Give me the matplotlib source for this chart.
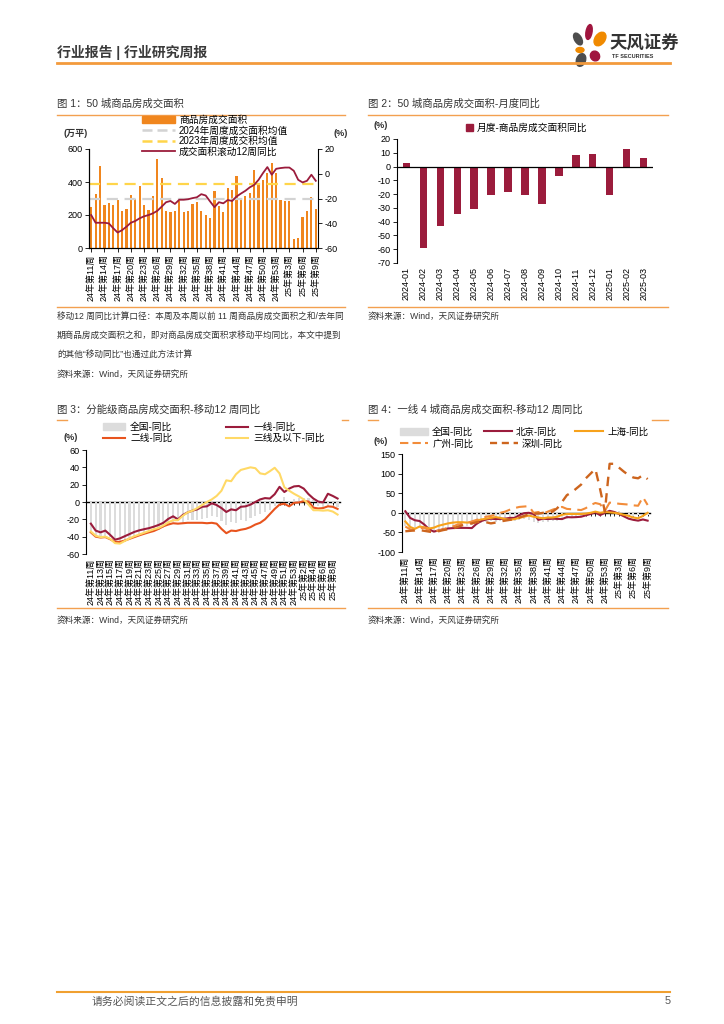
import matplotlib
matplotlib.use('Agg')
import matplotlib.pyplot as plt
from matplotlib.lines import Line2D
from matplotlib.patches import Patch, Ellipse
import numpy as np

plt.rcParams['font.family'] = ['Liberation Sans', 'Noto Sans CJK SC']
plt.rcParams['axes.unicode_minus'] = False

# ---- data ----
weeks = [f"24年第{w}周" for w in range(11, 54)] + [f"25年第{w}周" for w in range(1, 10)]

area50 = [248, 330, 497, 258, 273, 260, 290, 224, 235, 320,
          300, 377, 263, 230, 315, 542, 426, 223, 220, 224,
          285, 218, 222, 269, 279, 225, 197, 181, 347, 253,
          219, 362, 352, 437, 296, 316, 336, 475, 384, 414,
          454, 518, 455, 290, 285, 285, 52, 63, 185, 224,
          307, 236]
avg2024 = 297
avg2023 = 386
nation_yoy = [-33.4, -39.6, -39.6, -39.6, -40.1, -44.0, -47.5, -45.6, -42.8, -39.6,
              -38.2, -36.0, -34.4, -33.4, -32.0, -30.0, -26.6, -23.0, -22.0, -24.4,
              -21.0, -21.0, -20.6, -19.7, -19.0, -16.5, -17.6, -22.4, -27.0, -23.0,
              -23.9, -21.2, -22.0, -18.4, -16.0, -13.8, -11.0, -9.0, -4.9, 0.5,
              5.4, -0.8, 4.0, 4.6, 5.0, 5.0, 2.4, -4.9, -7.0, -5.7,
              -0.8, -5.7]

months = ['2024-01', '2024-02', '2024-03', '2024-04', '2024-05', '2024-06', '2024-07',
          '2024-08', '2024-09', '2024-10', '2024-11', '2024-12', '2025-01', '2025-02', '2025-03']
monthly_yoy = [2.5, -59, -43, -34.5, -30.5, -21, -18.5, -20.5, -27.5, -6.5, 8.5, 9, -20.5, 12.5, 6]

tier1 = [-25, -33, -35, -33, -38, -43.5, -42, -39.5, -37, -34.5,
         -32.7, -31.4, -30.2, -28.5, -26.5, -24, -19.5, -16.5, -20, -15,
         -12, -10, -8.5, -5.5, -5, -1.5, -3.5, -7, -11.5, -8.5,
         -9.5, -5.5, -5, -3, 0, 3, 4.5, 4, 9, 17.5,
         11.5, 15.5, 18, 18.5, 15.5, 9, 4, 0.5, -0.5, 9.5,
         7, 4]
tier2 = [-35, -40, -41, -40.5, -43, -46, -46, -44.5, -42.5, -40.5,
         -38.5, -36.7, -35, -33.5, -31, -28, -26, -24.5, -25, -24.5,
         -24, -24, -24, -24, -24.5, -24, -25, -31, -36, -33,
         -33.5, -32, -31, -29, -26, -24, -20, -14, -8, -3,
         -2, -5, -1, -0.5, 1, 0.5, -6.5, -7.5, -7, -5,
         -5.5, -8]
tier3 = [-34, -39, -40.5, -40, -42.5, -47.5, -48, -45, -42, -39.5,
         -37.5, -35.5, -33.5, -31.5, -30, -27, -23.5, -21, -21, -16,
         -12, -10, -7, -3.5, 0, 3, 7, 13, 25, 24,
         32, 37, 38.5, 40, 39, 33, 32, 35.5, 39.5, 33,
         17, 13, 9.5, 6.5, 3, -3, -9.5, -9.5, -10, -9.5,
         -11, -14.5]

beijing = [4, -13, -19, -21, -30, -42, -48, -45, -42, -40,
           -39, -38.5, -38.5, -38.5, -39, -28, -21, -17, -15, -16,
           -15.5, -15, -13, -13, -6, -1, 0, -3, -18, -15,
           -16, -15, -15.5, -16, -11, -11.5, -11, -10, -6.5, -3,
           1, -6, 0, 5, 2, -3, -9, -15, -18, -20,
           -17, -20]
shanghai = [-22, -36, -41, -35, -37, -40, -38, -33, -30, -27,
            -25, -24, -24, -25, -24, -20, -17, -15, -13, -11,
            -13, -16, -18, -16, -13, -10, -7, -10, -12, -14,
            -12, -12, -10, -5, -3, -3, -3, -3, -2, 0,
            3, 0, 2, 1, 0, -2, -5, -8, -12, -14,
            -8, 0]
guangzhou = [-35, -42, -45, -40, -38, -45, -48, -45, -42, -38,
             -35, -30, -28, -26, -22, -18, -15, -10, -8, -5,
             0, 3, 8, 12, 15, 16, 17, 0, 2, -2,
             3, 8, 12, 15, 10, 9, 8, 7, 12, 20,
             25, 22, 5, 26, 25, 23, 22, 21, 19, 18,
             40, 20]
shenzhen = [-47, -46, -45, -44, -46, -48, -50, -47, -44, -42,
            -40, -36, -32, -30, -27, -24, -22, -24, -27, -25,
            -22, -20, -18, -17, -12, -8, -4, -2, -2, 0,
            0, 3, 12, 28, 45, 52, 62, 72, 88, 100,
            112, 60, 3, 125, 125, 115, 105, 96, 90, 88,
            96, 86]

# ---- colours ----
C_BAR = '#F0861E'
C_RED = '#9B1C3C'
C_GRAY = '#D3D3D3'
C_YEL = '#FFD54A'
C_T2 = '#E8541E'
C_T3 = '#FFD966'
C_SH = '#F7A21B'
C_GZ = '#F28C3A'
C_SZ = '#CD651E'
C_LINE = '#F3A050'
C_TXT = '#333333'

W, H = 724, 1024
fig = plt.figure(figsize=(W / 100, H / 100), dpi=100)


def fx(x):
    return x / W


def fy(y):
    return 1 - y / H


def axes_px(l, t, r, b):
    return fig.add_axes([l / W, 1 - b / H, (r - l) / W, (b - t) / H])


def text_px(x, y, s, **kw):
    kw.setdefault('color', C_TXT)
    fig.text(fx(x), fy(y), s, va='center', ha=kw.pop('ha', 'left'), **kw)


def hline_px(x0, x1, y, color=C_LINE, lw=1.0):
    fig.add_artist(Line2D([fx(x0), fx(x1)], [fy(y), fy(y)], color=color, lw=lw))


def style_ax(ax):
    ax.tick_params(labelsize=6.5, length=3, width=0.6, direction='out', pad=1.5)
    for s in ax.spines.values():
        s.set_linewidth(0.8)
    ax.spines['top'].set_visible(False)


def key(handle, label, x, y, hl=3.3, fs=6.8):
    fig.legend([handle], [label], loc='center left', bbox_to_anchor=(fx(x), fy(y)),
               bbox_transform=fig.transFigure, frameon=False, fontsize=fs,
               handlelength=hl, handletextpad=0.4, borderaxespad=0, borderpad=0)


# ---- page header ----
text_px(57, 52, '行业报告 | 行业研究周报', fontsize=10, fontweight='bold', color='#3a3a3a')
hline_px(57, 670, 63, color='#F39A3C', lw=2)
lg = axes_px(570, 20, 610, 68)
lg.set_xlim(0, 40)
lg.set_ylim(48, 0)
lg.axis('off')
for (cx, cy, w, h, a, c) in [(8, 19, 7, 13, -30, '#4D4D4D'), (19, 12, 6, 15, 10, '#A0153E'),
                             (30, 19, 10, 15, 35, '#F08A00'), (10, 30, 8, 5, 0, '#F08A00'),
                             (11, 40, 9, 13, 20, '#4D4D4D'), (25, 36, 9, 10, -30, '#A0153E')]:
    lg.add_patch(Ellipse((cx, cy), w, h, angle=a, color=c))
text_px(610, 43, '天风证券', fontsize=12.5, fontweight='bold', color='#333333')
text_px(612, 57, 'TF SECURITIES', fontsize=4, fontweight='bold', color='#333333')

x = np.arange(len(weeks))

# ---- chart 1 ----
text_px(57, 104, '图 1：50 城商品房成交面积', fontsize=7.5)
hline_px(57, 345, 115)
ax1 = axes_px(89, 149, 318, 248)
ax1.bar(x, area50, width=0.5, color=C_BAR, zorder=1)
ax1.axhline(avg2024, color=C_GRAY, ls=(0, (5, 3)), lw=1.6, zorder=2)
ax1.axhline(avg2023, color=C_YEL, ls=(0, (5, 3)), lw=1.6, zorder=2)
ax1.set_ylim(0, 600)
ax1.set_yticks(range(0, 601, 200))
ax1.set_xlim(-0.5, len(weeks) - 0.5)
ax1.set_xticks(x[::3])
ax1.set_xticklabels(weeks[::3], rotation=90, fontsize=6.5)
style_ax(ax1)
ax1.spines['right'].set_visible(False)
ax1r = ax1.twinx()
ax1r.plot(x, nation_yoy, color=C_RED, lw=1.3)
ax1r.set_ylim(-60, 20)
ax1r.set_yticks(range(-60, 21, 20))
style_ax(ax1r)
text_px(63, 133, '(万平)', fontsize=6.5, fontweight='bold')
text_px(333, 133, '(%)', fontsize=6.5, fontweight='bold')
fig.legend([Patch(color=C_BAR),
            Line2D([], [], color=C_GRAY, ls=(0, (4, 2)), lw=1.8),
            Line2D([], [], color=C_YEL, ls=(0, (4, 2)), lw=1.8),
            Line2D([], [], color=C_RED, lw=1.3)],
           ['商品房成交面积', '2024年周度成交面积均值', '2023年周度成交积均值', '成交面积滚动12周同比'],
           loc='upper left', bbox_to_anchor=(fx(142), fy(115)), bbox_transform=fig.transFigure,
           frameon=False, fontsize=7, handlelength=3.4, handletextpad=0.4,
           labelspacing=0.05, borderaxespad=0, borderpad=0)
hline_px(57, 345, 307)
text_px(57, 316, '移动12 周同比计算口径：本周及本周以前 11 周商品房成交面积之和/去年同', fontsize=6.2)
text_px(57, 335, '期商品房成交面积之和，即对商品房成交面积求移动平均同比，本文中提到', fontsize=6.2)
text_px(57, 354, '的其他“移动同比”也通过此方法计算', fontsize=6.2)
text_px(57, 374, '资料来源：Wind，天风证券研究所', fontsize=6.2)

# ---- chart 2 ----
text_px(368, 104, '图 2：50 城商品房成交面积-月度同比', fontsize=7.5)
hline_px(368, 668, 115)
ax2 = axes_px(397, 139, 653, 263)
m = np.arange(len(months))
ax2.bar(m, monthly_yoy, width=0.43, color=C_RED)
ax2.axhline(0, color='black', lw=0.9)
ax2.set_ylim(-70, 20)
ax2.set_yticks(range(-70, 21, 10))
ax2.set_xlim(-0.55, len(months) - 0.45)
ax2.set_xticks(m)
ax2.set_xticklabels(months, rotation=90, fontsize=6.5)
style_ax(ax2)
ax2.spines['right'].set_visible(False)
ax2.spines['bottom'].set_visible(False)
ax2.tick_params(axis='x', length=0, pad=3)
text_px(373, 126, '(%)', fontsize=6.5, fontweight='bold')
key(Patch(color=C_RED), '月度-商品房成交面积同比', 466, 128, hl=0.7, fs=7)
hline_px(368, 668, 307)
text_px(368, 316, '资料来源：Wind，天风证券研究所', fontsize=6.2)

# ---- chart 3 ----
text_px(57, 410, '图 3：分能级商品房成交面积-移动12 周同比', fontsize=7.5)
hline_px(57, 67, 420)
hline_px(342, 348, 420)
ax3 = axes_px(86, 450, 340, 554)
ax3.bar(x, nation_yoy, width=0.45, color='#DCDCDC')
ax3.plot(x, tier1, color=C_RED, lw=1.5)
ax3.plot(x, tier2, color=C_T2, lw=1.5)
ax3.plot(x, tier3, color=C_T3, lw=1.5)
ax3.set_ylim(-60, 60)
ax3.set_yticks(range(-60, 61, 20))
ax3.set_xlim(-1, len(weeks) - 0.5)
ax3.set_xticks(x[::2])
ax3.set_xticklabels(weeks[::2], rotation=90, fontsize=6.3)
style_ax(ax3)
ax3.spines['right'].set_visible(False)
ax3.spines['bottom'].set_visible(False)
ax3.tick_params(axis='x', length=0, pad=3)
sec3 = ax3.secondary_xaxis(0, transform=ax3.transData)
sec3.set_xticks(x)
sec3.set_xticklabels([])
sec3.tick_params(length=2.5, width=0.6)
sec3.spines['bottom'].set_linewidth(1.0)
text_px(63, 438, '(%)', fontsize=6.5, fontweight='bold')
fig.legend([Patch(color='#DCDCDC'), Line2D([], [], color=C_T2, lw=1.5),
            Line2D([], [], color=C_RED, lw=1.5), Line2D([], [], color=C_T3, lw=1.5)],
           ['全国-同比', '二线-同比', '一线-同比', '三线及以下-同比'], ncol=2,
           loc='upper left', bbox_to_anchor=(fx(103), fy(422)), bbox_transform=fig.transFigure,
           frameon=False, fontsize=7, handlelength=2.3, handletextpad=0.5, columnspacing=5.5,
           labelspacing=0.1, borderaxespad=0, borderpad=0)
hline_px(57, 345, 608)
text_px(57, 620, '资料来源：Wind，天风证券研究所', fontsize=6.2)

# ---- chart 4 ----
text_px(368, 410, '图 4：一线 4 城商品房成交面积-移动12 周同比', fontsize=7.5)
hline_px(368, 378, 420)
hline_px(652, 668, 420)
ax4 = axes_px(402, 454, 650, 552)
ax4.bar(x, nation_yoy, width=0.45, color='#DCDCDC')
ax4.plot(x, beijing, color=C_RED, lw=1.5)
ax4.plot(x, shanghai, color=C_SH, lw=1.5)
ax4.plot(x, guangzhou, color=C_GZ, lw=1.5, ls=(0, (5, 3)))
ax4.plot(x, shenzhen, color=C_SZ, lw=1.7, ls=(0, (4, 3)))
ax4.set_ylim(-100, 150)
ax4.set_yticks(range(-100, 151, 50))
ax4.set_xlim(-0.7, len(weeks) - 0.5)
ax4.set_xticks(x[::3])
ax4.set_xticklabels(weeks[::3], rotation=90, fontsize=6.5)
style_ax(ax4)
ax4.spines['right'].set_visible(False)
ax4.spines['bottom'].set_visible(False)
ax4.tick_params(axis='x', length=0, pad=3)
sec4 = ax4.secondary_xaxis(0, transform=ax4.transData)
sec4.set_xticks(x)
sec4.set_xticklabels([])
sec4.tick_params(length=2.5, width=0.6)
sec4.spines['bottom'].set_linewidth(1.0)
text_px(373, 442, '(%)', fontsize=6.5, fontweight='bold')
key(Patch(color='#DCDCDC'), '全国-同比', 400, 432, hl=3.0)
key(Line2D([], [], color=C_RED, lw=1.5), '北京-同比', 484, 432, hl=3.0)
key(Line2D([], [], color=C_SH, lw=1.5), '上海-同比', 575, 432, hl=3.0)
key(Line2D([], [], color=C_GZ, lw=1.5, ls=(0, (4, 2))), '广州-同比', 400, 444, hl=3.0)
key(Line2D([], [], color=C_SZ, lw=1.7, ls=(0, (3, 2))), '深圳-同比', 490, 444, hl=3.0)
hline_px(368, 668, 608)
text_px(368, 620, '资料来源：Wind，天风证券研究所', fontsize=6.2)

# ---- footer ----
hline_px(57, 670, 992, color='#F0A030', lw=1.5)
text_px(92, 1001, '请务必阅读正文之后的信息披露和免责申明', fontsize=7.8, color='#555555')
text_px(665, 1001, '5', fontsize=7.8, color='#555555')

fig.savefig('out.png', dpi=100)
